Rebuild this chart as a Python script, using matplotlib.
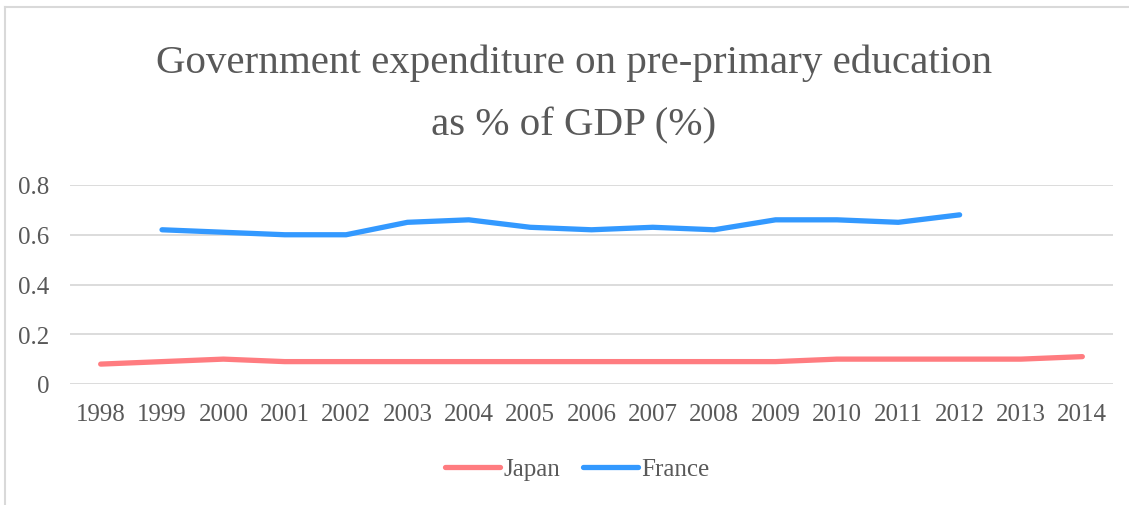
import matplotlib
matplotlib.use("Agg")
import matplotlib.pyplot as plt
from matplotlib.lines import Line2D
import numpy as np

years = ["1998", "1999", "2000", "2001", "2002", "2003", "2004", "2005", "2006",
         "2007", "2008", "2009", "2010", "2011", "2012", "2013", "2014"]
japan = [0.08, 0.09, 0.10, 0.09, 0.09, 0.09, 0.09, 0.09, 0.09,
         0.09, 0.09, 0.09, 0.10, 0.10, 0.10, 0.10, 0.11]
france = [np.nan, 0.62, 0.61, 0.60, 0.60, 0.65, 0.66, 0.63, 0.62,
          0.63, 0.62, 0.66, 0.66, 0.65, 0.68, np.nan, np.nan]
yticks = [0, 0.2, 0.4, 0.6, 0.8]
ytick_labels = ["0", "0.2", "0.4", "0.6", "0.8"]

plt.rcParams["font.family"] = ["Liberation Serif", "DejaVu Serif"]
text_color = "#595959"
grid_color = "#D9D9D9"

fig = plt.figure(figsize=(11.29, 5.06), dpi=100)
ax = fig.add_axes([70 / 1129, 121 / 506, (1113 - 70) / 1129, (385 - 186) / 506])

x = np.arange(len(years))
ax.plot(x, japan, color="#FF7C80", lw=3.8, solid_capstyle="round",
        solid_joinstyle="round", label="Japan")
ax.plot(x, france, color="#3399FF", lw=3.8, solid_capstyle="round",
        solid_joinstyle="round", label="France")

ax.set_xlim(-0.5, len(years) - 0.5)
ax.set_ylim(0, 0.8)
ax.set_yticks(yticks)
ax.set_yticklabels(ytick_labels)
ax.set_xticks(x)
ax.set_xticklabels(years)
ax.tick_params(axis="both", length=0, colors=text_color, labelsize=18)
ax.tick_params(axis="y", pad=15)
ax.tick_params(axis="x", pad=14)
for s in ax.spines.values():
    s.set_visible(False)
ax.grid(axis="y", color=grid_color, lw=1.3)
ax.set_axisbelow(True)

fig.text(574 / 1129, 1 - 63 / 506, "Government expenditure on pre-primary education",
         ha="center", va="center", fontsize=29.5, color=text_color)
fig.text(574 / 1129, 1 - 126 / 506, "as % of GDP (%)",
         ha="center", va="center", fontsize=29.5, color=text_color)

leg = fig.legend(loc="center", bbox_to_anchor=(577 / 1129, 1 - 470 / 506), ncol=2,
                 frameon=False, fontsize=18, handlelength=2.2, handletextpad=0.15,
                 columnspacing=0.9)
for t in leg.get_texts():
    t.set_color(text_color)

# outer chart border
fig.add_artist(Line2D([5 / 1129, 5 / 1129], [0, 1 - 8 / 506], transform=fig.transFigure,
                      color=grid_color, lw=1.5))
fig.add_artist(Line2D([5 / 1129, 1], [1 - 8 / 506, 1 - 8 / 506], transform=fig.transFigure,
                      color=grid_color, lw=1.5))

fig.savefig("out.png", dpi=100, facecolor="white")
